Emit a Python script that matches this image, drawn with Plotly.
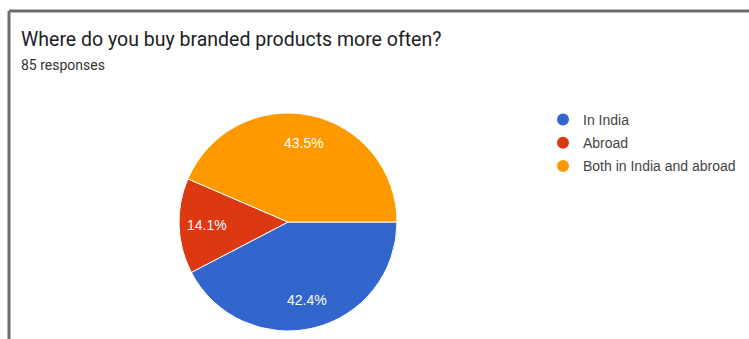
import math
import plotly.graph_objects as go

# Survey results: "Where do you buy branded products more often?" (85 responses)
labels = ["In India", "Abroad", "Both in India and abroad"]
counts = [36, 12, 37]
colors = ["#3366CC", "#DC3912", "#FF9900"]

W, H = 749, 339
cx, cy, r = 288, 222, 109  # pie centre / radius in pixels from top-left
label_r = 0.74            # radial position of the percentage labels (fraction of r)

fig = go.Figure()
fig.add_trace(go.Pie(
    labels=labels,
    values=counts,
    sort=False,
    direction="clockwise",
    rotation=90,
    marker=dict(colors=colors, line=dict(color="white", width=1)),
    textinfo="none",
    showlegend=False,
    hoverinfo="label+value+percent",
    domain=dict(x=[(cx - r) / W, (cx + r) / W],
                y=[(H - cy - r) / H, (H - cy + r) / H]),
))

# percentage labels placed at each slice's mid-angle (clockwise from 3 o'clock)
total = sum(counts)
annotations = []
start = 0.0
for v in counts:
    frac = v / total
    mid = math.radians((start + frac / 2) * 360)
    start += frac
    px = cx + label_r * r * math.cos(mid)
    py = cy + label_r * r * math.sin(mid)
    annotations.append(dict(
        text=f"{frac * 100:.1f}%", xref="paper", yref="paper",
        x=px / W, y=1 - py / H, xanchor="center", yanchor="middle",
        showarrow=False,
        font=dict(size=14, color="white", family="Liberation Sans, Arial"),
    ))

# circular legend markers
for lab, col in zip(labels, colors):
    fig.add_trace(go.Scatter(
        x=[None], y=[None], mode="markers", name=lab,
        marker=dict(color=col, size=12, symbol="circle"),
        legendgroup=lab, showlegend=True,
    ))

annotations += [
    dict(text="Where do you buy branded products more often?",
         xref="paper", yref="paper", x=19 / W, y=1 - 26 / H,
         xanchor="left", yanchor="top", showarrow=False,
         font=dict(size=19.5, color="#202124", family="Roboto")),
    dict(text="85 responses",
         xref="paper", yref="paper", x=19 / W, y=1 - 55 / H,
         xanchor="left", yanchor="top", showarrow=False,
         font=dict(size=14, color="#333333", family="Roboto")),
]

fig.update_layout(
    width=W, height=H,
    margin=dict(l=0, r=0, t=0, b=0),
    paper_bgcolor="white", plot_bgcolor="white",
    xaxis=dict(visible=False), yaxis=dict(visible=False),
    legend=dict(
        x=543 / W, y=1 - 104 / H, xanchor="left", yanchor="top",
        font=dict(size=14, color="#444444", family="Liberation Sans, Arial"),
        tracegroupgap=2, itemwidth=30, bgcolor="rgba(0,0,0,0)",
    ),
    shapes=[
        dict(type="line", xref="paper", yref="paper",
             x0=9 / W, x1=1, y0=1 - 11 / H, y1=1 - 11 / H,
             line=dict(color="#6e6e6e", width=3)),
        dict(type="line", xref="paper", yref="paper",
             x0=9 / W, x1=9 / W, y0=0, y1=1 - 11 / H,
             line=dict(color="#6e6e6e", width=3)),
    ],
    annotations=annotations,
)

fig.write_html("out.html")
